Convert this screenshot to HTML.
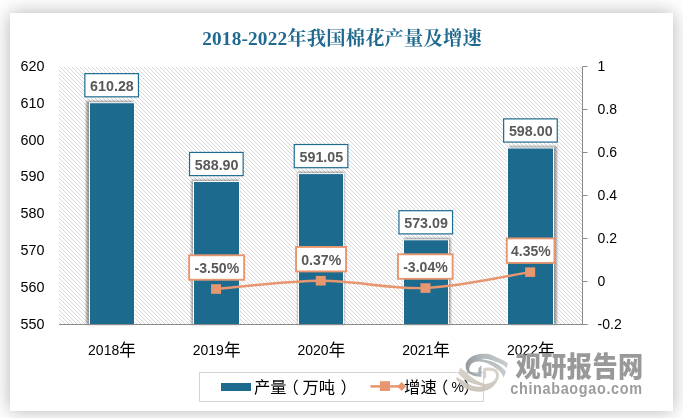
<!DOCTYPE html>
<html lang="zh"><head><meta charset="utf-8"><title>2018-2022年我国棉花产量及增速</title>
<style>html,body{margin:0;padding:0;background:#fff;}body{width:683px;height:418px;overflow:hidden;position:relative;}#card{position:absolute;left:10px;top:12.5px;width:663px;height:398px;background:#fff;box-shadow:0 0 18px rgba(0,0,0,0.30);}svg{position:absolute;left:0;top:0;}.ax{font-family:"Liberation Sans",sans-serif;font-size:14px;fill:#000;}.dl{font-family:"Liberation Sans",sans-serif;font-size:14px;font-weight:bold;fill:#595959;text-anchor:middle;}.cj{font-family:"Liberation Sans","Noto Sans CJK SC",sans-serif;}</style></head><body><div id="card"></div>
<svg width="683" height="418" viewBox="0 0 683 418">
<defs><pattern id="h" width="4" height="4" patternUnits="userSpaceOnUse"><rect x="1" y="0" width="1" height="1" fill="#d7d7d7"/><rect x="2" y="1" width="1" height="1" fill="#d7d7d7"/><rect x="3" y="2" width="1" height="1" fill="#d7d7d7"/><rect x="0" y="3" width="1" height="1" fill="#d7d7d7"/></pattern><filter id="bl" x="-30%" y="-10%" width="160%" height="120%"><feGaussianBlur stdDeviation="1.0"/></filter><linearGradient id="g1" x1="0" y1="0" x2="1" y2="0"><stop offset="0" stop-color="#868d92"/><stop offset="0.4" stop-color="#aab0b4"/><stop offset="1" stop-color="#c2c7ca"/></linearGradient><linearGradient id="g2" x1="0" y1="0" x2="0" y2="1"><stop offset="0" stop-color="#d6d2ca"/><stop offset="1" stop-color="#c6c1b5"/></linearGradient></defs>
<rect x="59.0" y="67.0" width="523.0" height="257.5" fill="url(#h)"/>
<text x="202.2" y="44.6" style="font-family:'Liberation Serif','Noto Serif CJK SC',serif;font-weight:bold;font-size:19.3px;fill:#1f6a8e" textLength="279.5" lengthAdjust="spacing">2018-2022年我国棉花产量及增速</text>
<rect x="86.19" y="100.93" width="46.60" height="223.57" fill="#000" fill-opacity="0.38" filter="url(#bl)"/>
<rect x="191.44" y="179.73" width="47.60" height="144.77" fill="#000" fill-opacity="0.38" filter="url(#bl)"/>
<rect x="297.70" y="171.80" width="46.60" height="152.70" fill="#000" fill-opacity="0.38" filter="url(#bl)"/>
<rect x="403.96" y="238.00" width="46.60" height="86.50" fill="#000" fill-opacity="0.38" filter="url(#bl)"/>
<rect x="509.21" y="146.19" width="47.60" height="178.31" fill="#000" fill-opacity="0.38" filter="url(#bl)"/>
<rect x="89.50" y="102.73" width="45.00" height="221.77" fill="#1c6a8e" stroke="#fff" stroke-width="1"/>
<rect x="193.50" y="181.53" width="46.00" height="142.97" fill="#1c6a8e" stroke="#fff" stroke-width="1"/>
<rect x="298.50" y="173.60" width="45.00" height="150.90" fill="#1c6a8e" stroke="#fff" stroke-width="1"/>
<rect x="403.50" y="239.80" width="45.00" height="84.70" fill="#1c6a8e" stroke="#fff" stroke-width="1"/>
<rect x="507.50" y="147.99" width="46.00" height="176.51" fill="#1c6a8e" stroke="#fff" stroke-width="1"/>
<path d="M59.0 324.5H587.5M582.5 66.5V324.5" stroke="#8a8a8a" stroke-width="1" fill="none"/>
<path d="M582.5 66.50h5" stroke="#8a8a8a" stroke-width="1"/>
<path d="M582.5 109.50h5" stroke="#8a8a8a" stroke-width="1"/>
<path d="M582.5 152.50h5" stroke="#8a8a8a" stroke-width="1"/>
<path d="M582.5 195.50h5" stroke="#8a8a8a" stroke-width="1"/>
<path d="M582.5 238.50h5" stroke="#8a8a8a" stroke-width="1"/>
<path d="M582.5 281.50h5" stroke="#8a8a8a" stroke-width="1"/>
<path d="M582.5 324.50h5" stroke="#8a8a8a" stroke-width="1"/>
<text class="ax" x="44.5" y="70.90" text-anchor="end" textLength="23.9" lengthAdjust="spacingAndGlyphs">620</text>
<text class="ax" x="44.5" y="107.76" text-anchor="end" textLength="23.9" lengthAdjust="spacingAndGlyphs">610</text>
<text class="ax" x="44.5" y="144.61" text-anchor="end" textLength="23.9" lengthAdjust="spacingAndGlyphs">600</text>
<text class="ax" x="44.5" y="181.47" text-anchor="end" textLength="23.9" lengthAdjust="spacingAndGlyphs">590</text>
<text class="ax" x="44.5" y="218.33" text-anchor="end" textLength="23.9" lengthAdjust="spacingAndGlyphs">580</text>
<text class="ax" x="44.5" y="255.19" text-anchor="end" textLength="23.9" lengthAdjust="spacingAndGlyphs">570</text>
<text class="ax" x="44.5" y="292.04" text-anchor="end" textLength="23.9" lengthAdjust="spacingAndGlyphs">560</text>
<text class="ax" x="44.5" y="328.90" text-anchor="end" textLength="23.9" lengthAdjust="spacingAndGlyphs">550</text>
<text class="ax" x="597.6" y="71.00">1</text>
<text class="ax" x="597.6" y="114.00">0.8</text>
<text class="ax" x="597.6" y="157.00">0.6</text>
<text class="ax" x="597.6" y="200.00">0.4</text>
<text class="ax" x="597.6" y="243.00">0.2</text>
<text class="ax" x="597.6" y="286.00">0</text>
<text class="ax" x="597.6" y="329.00">-0.2</text>
<text class="ax cj" x="111.95" y="355.2" text-anchor="middle">2018<tspan dy="0.6" style="font-size:16.6px">年</tspan></text>
<text class="ax cj" x="216.65" y="355.2" text-anchor="middle">2019<tspan dy="0.6" style="font-size:16.6px">年</tspan></text>
<text class="ax cj" x="321.35" y="355.2" text-anchor="middle">2020<tspan dy="0.6" style="font-size:16.6px">年</tspan></text>
<text class="ax cj" x="426.05" y="355.2" text-anchor="middle">2021<tspan dy="0.6" style="font-size:16.6px">年</tspan></text>
<text class="ax cj" x="530.75" y="355.2" text-anchor="middle">2022<tspan dy="0.6" style="font-size:16.6px">年</tspan></text>
<path d="M216.05 289.02C233.50 287.64 285.85 280.87 320.75 280.70C355.65 280.54 390.55 289.46 425.45 288.04C460.35 286.61 512.70 274.80 530.15 272.15" stroke="#e8966f" stroke-width="2.4" fill="none" stroke-linecap="round"/>
<rect x="211.05" y="284.22" width="10" height="9.6" fill="#e8966f"/>
<rect x="315.75" y="275.90" width="10" height="9.6" fill="#e8966f"/>
<rect x="420.45" y="283.24" width="10" height="9.6" fill="#e8966f"/>
<rect x="525.15" y="267.35" width="10" height="9.6" fill="#e8966f"/>
<rect x="84.85" y="73.63" width="53.60" height="23.20" fill="#fff" stroke="#1f6b8f" stroke-width="1.2"/>
<text class="dl" x="111.95" y="90.73" textLength="43.7" lengthAdjust="spacingAndGlyphs">610.28</text>
<rect x="189.55" y="152.43" width="53.60" height="23.20" fill="#fff" stroke="#1f6b8f" stroke-width="1.2"/>
<text class="dl" x="216.65" y="169.53" textLength="43.7" lengthAdjust="spacingAndGlyphs">588.90</text>
<rect x="294.25" y="144.50" width="53.60" height="23.20" fill="#fff" stroke="#1f6b8f" stroke-width="1.2"/>
<text class="dl" x="321.35" y="161.60" textLength="43.7" lengthAdjust="spacingAndGlyphs">591.05</text>
<rect x="398.95" y="210.70" width="53.60" height="23.20" fill="#fff" stroke="#1f6b8f" stroke-width="1.2"/>
<text class="dl" x="426.05" y="227.80" textLength="43.7" lengthAdjust="spacingAndGlyphs">573.09</text>
<rect x="503.65" y="118.89" width="53.60" height="23.20" fill="#fff" stroke="#1f6b8f" stroke-width="1.2"/>
<text class="dl" x="530.75" y="135.99" textLength="43.7" lengthAdjust="spacingAndGlyphs">598.00</text>
<rect x="189.15" y="255.27" width="55.00" height="24.50" fill="#fff" stroke="#e8966f" stroke-width="1.9"/>
<text class="dl" x="216.85" y="273.02" textLength="44.6" lengthAdjust="spacingAndGlyphs">-3.50%</text>
<rect x="296.05" y="246.95" width="50.00" height="24.50" fill="#fff" stroke="#e8966f" stroke-width="1.9"/>
<text class="dl" x="321.25" y="264.70" textLength="40.0" lengthAdjust="spacingAndGlyphs">0.37%</text>
<rect x="397.95" y="254.29" width="54.70" height="24.50" fill="#fff" stroke="#e8966f" stroke-width="1.9"/>
<text class="dl" x="425.50" y="272.04" textLength="44.6" lengthAdjust="spacingAndGlyphs">-3.04%</text>
<rect x="506.75" y="238.40" width="47.70" height="24.50" fill="#fff" stroke="#e8966f" stroke-width="1.9"/>
<text class="dl" x="530.80" y="256.15" textLength="39.6" lengthAdjust="spacingAndGlyphs">4.35%</text>
<rect x="199.5" y="372.5" width="284" height="29" fill="#fff" stroke="#d4d4d4" stroke-width="1"/>
<rect x="221" y="383" width="30" height="8" fill="#1c6a8e"/>
<text class="cj" x="254" y="392.6" style="font-size:16.3px;fill:#000">产量<tspan dx="-4">（</tspan><tspan dx="3.5">万吨</tspan><tspan dx="5.5">）</tspan></text>
<path d="M370.4 386.4H400" stroke="#e8966f" stroke-width="2.5"/>
<rect x="380" y="381.2" width="10" height="9.8" fill="#e8966f"/>
<path d="M397.3 386.4L401.7 381.9L406.1 386.4L401.7 390.9Z" fill="#e8966f"/>
<text class="cj" x="404.1" y="392.6" style="font-size:16.3px;fill:#000">增速<tspan dx="-4.6">（</tspan><tspan dx="3.1" dy="-0.9" style="font-size:14px">%</tspan><tspan dx="-0.5" dy="0.9" style="font-size:16.3px">）</tspan></text>
<g>
<g transform="translate(452 350) scale(0.1101)">
<path d="M268,138 L268,242 C230,245 190,235 160,215 C135,198 122,170 124,140 C126,100 160,62 215,45 C245,35 295,30 330,36 C355,42 378,52 395,62 C420,75 440,82 461,91 C478,99 492,108 507,117 L497,163 C485,152 473,143 461,135 C440,122 420,113 395,106 C370,97 350,90 330,85 C305,80 285,78 262,82 C285,86 310,92 330,96.5 C355,103 375,110 395,117.5 C420,130 440,145 461,163 C472,173 482,184 490,196 L470,251 C462,232 452,216 441,202 C428,187 412,174 395,163 C375,150 352,135 330,124 C310,115 290,110 265,107 C240,103 215,104 190,115 C165,130 152,160 160,190 C175,205 200,212 240,212 L240,165 Z" fill="url(#g1)" fill-opacity="0.9"/>
<path d="M283,166 C320,155 370,158 400,175 C422,192 430,215 425,240 C422,262 415,275 408,286 C395,310 385,320 369,333 C350,348 335,358 315,366 C295,373 275,378 255,379 C235,380 220,378 202,375 C185,372 165,367 149,361 C130,354 115,343 103,333 C90,322 80,311 69,300 C58,290 47,279 37,268 L43,244 C60,255 80,265 103,280 C125,295 145,308 170,318 C195,328 215,332 236,333 C255,334 270,332 286,328 C270,326 255,322 236,317 C215,312 190,305 170,298 C145,288 125,275 103,258 C85,244 70,229 57,214 L75,157 C90,172 110,187 129,200 C140,208 148,218 156,226 C170,240 185,252 202,263 C220,275 238,285 256,293 C270,299 285,305 302,308 C320,308 335,305 349,298 C362,291 376,283 386,273 C394,262 398,252 399,240 C401,225 397,208 385,200 C370,190 345,187 310,190 L310,245 L283,272 Z" fill="url(#g2)" fill-opacity="0.92"/>
</g>
<text transform="translate(515.6 376.6) scale(0.9 1)" textLength="141.8" lengthAdjust="spacing" style="font-family:'Liberation Sans','Noto Sans CJK SC',sans-serif;font-weight:900;font-size:28px;fill:#999">观研报告网</text>
<text transform="translate(510.3 393.6) scale(0.9 1)" textLength="146.4" lengthAdjust="spacing" style="font-family:'Liberation Sans',sans-serif;font-weight:bold;font-size:16px;fill:#9c9c9c">chinabaogao.com</text>
</g>
</svg></body></html>
